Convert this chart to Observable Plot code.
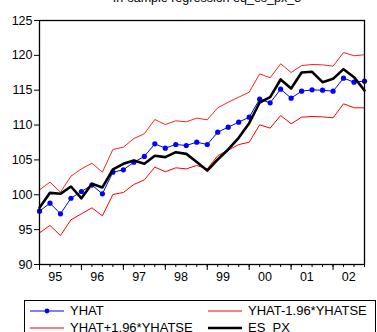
<!DOCTYPE html>
<html><head><meta charset="utf-8">
<script src="https://cdn.jsdelivr.net/npm/d3@7"></script>
<script src="https://cdn.jsdelivr.net/npm/@observablehq/plot@0.6"></script>
<style>
body{margin:0;background:#fff;font-family:"Liberation Sans",Arial,sans-serif;}
#wrap{position:relative;width:377px;height:332px;overflow:hidden;}
#title{position:absolute;left:0;width:414px;text-align:center;top:-9px;font-size:12.5px;color:#000;}
#chart{position:absolute;left:0;top:0;}
#legend{position:absolute;left:24px;top:300px;width:352px;height:60px;border:1px solid #000;box-sizing:border-box;font-size:13px;}
.item{position:absolute;display:flex;align-items:center;}
.item span{margin-left:6px;}
</style></head>
<body>
<div id="wrap">
<div id="title">In-sample regression eq_es_px_3</div>
<div id="chart"></div>
<div id="legend"></div>
</div>
<script>
const quarters = ["1995Q1","1995Q2","1995Q3","1995Q4","1996Q1","1996Q2","1996Q3","1996Q4",
"1997Q1","1997Q2","1997Q3","1997Q4","1998Q1","1998Q2","1998Q3","1998Q4",
"1999Q1","1999Q2","1999Q3","1999Q4","2000Q1","2000Q2","2000Q3","2000Q4",
"2001Q1","2001Q2","2001Q3","2001Q4","2002Q1","2002Q2","2002Q3","2002Q4"];
const yearLabels = ["95","96","97","98","99","00","01","02"];
const yhat = [97.65,98.8,97.27,99.5,100.47,101.4,100.14,103.24,
103.58,104.68,105.5,107.31,106.69,107.21,107.07,107.55,
107.21,108.98,109.7,110.42,111.13,113.72,113.19,115.15,
113.86,114.86,115.05,115.0,114.86,116.73,116.15,116.3];
const esPx = [98.13,100.28,100.14,101.19,99.5,101.57,101.05,103.63,
104.44,104.92,104.44,105.59,105.4,106.11,105.87,104.7,
103.48,105.06,106.5,108.17,110.27,113.24,114.0,116.54,
115.25,117.54,117.64,116.15,116.63,118.02,116.87,114.96];
const upper = [100.71,101.81,100.37,102.67,103.72,104.53,103.24,106.5,
106.83,108.07,108.75,110.8,110.08,110.61,110.47,110.99,
110.76,112.47,113.28,114.0,114.72,117.35,116.78,118.79,
117.54,118.54,118.69,118.64,118.45,120.41,119.94,120.08];
const lower = [94.54,95.6,94.16,96.41,97.27,98.13,96.98,100.04,
100.33,101.48,102.14,103.97,103.3,103.87,103.72,104.2,
103.72,105.6,106.4,107.2,107.54,110.04,109.56,111.37,
110.18,111.13,111.23,111.18,111.04,113.05,112.48,112.48];
const yTicks = [90,95,100,105,110,115,120,125];

const rows = quarters.map((q,i)=>({i, yhat:yhat[i], es:esPx[i], up:upper[i], lo:lower[i]}));
const qIdx = quarters.map((q,i)=>i);
const yearStarts = yearLabels.map((y,k)=>k*4);
const yearCenters = yearLabels.map((y,k)=>k*4+1.5);

const plot = Plot.plot({
  width:377, height:290,
  marginLeft:39, marginRight:13, marginTop:20, marginBottom:26,
  style:{fontFamily:"'Liberation Sans',Arial,sans-serif", fontSize:"12.5px", color:"#000", background:"transparent"},
  x:{domain:[0,31], axis:null},
  y:{domain:[90,125], axis:null},
  marks:[
    Plot.line(rows,{x:"i",y:"lo",stroke:"#ff0000",strokeWidth:1}),
    Plot.line(rows,{x:"i",y:"up",stroke:"#ff2020",strokeWidth:1}),
    Plot.line(rows,{x:"i",y:"yhat",stroke:"#0000ff",strokeWidth:1}),
    Plot.dot(rows,{x:"i",y:"yhat",fill:"#0000ff",r:2.6,stroke:"none"}),
    Plot.line(rows,{x:"i",y:"es",stroke:"#000",strokeWidth:2.6}),
    Plot.axisY({ticks:yTicks, tickSize:5, tickPadding:2, anchor:"left", label:null, tickFormat:d=>String(d), fontSize:12.5}),
    Plot.axisX({ticks:qIdx, tickSize:3, tickFormat:()=>"", anchor:"bottom", label:null}),
    Plot.axisX({ticks:yearStarts, tickSize:6, tickFormat:()=>"", anchor:"bottom", label:null}),
    Plot.axisX({ticks:yearCenters, tickSize:0, tickPadding:8, anchor:"bottom", label:null, tickFormat:(d)=>yearLabels[Math.round((d-1.5)/4)], fontSize:12.5}),
    Plot.frame({stroke:"#000", strokeWidth:1.3})
  ]
});
document.getElementById("chart").appendChild(plot);

const legendItems = [
  {label:"YHAT", color:"#0000ff", w:1, dot:true, x:5, y:2},
  {label:"YHAT-1.96*YHATSE", color:"#ff0000", w:1, dot:false, x:183, y:2},
  {label:"YHAT+1.96*YHATSE", color:"#ff5050", w:1.5, dot:false, x:5, y:19},
  {label:"ES_PX", color:"#000", w:2.6, dot:false, x:183, y:19}
];
const lg = document.getElementById("legend");
legendItems.forEach(it=>{
  const d = document.createElement("div");
  d.className="item";
  d.style.left=it.x+"px"; d.style.top=it.y+"px";
  d.innerHTML = `<svg width="34" height="14"><line x1="0" x2="34" y1="7" y2="7" stroke="${it.color}" stroke-width="${it.w}"/>${it.dot?`<circle cx="17" cy="7" r="2.4" fill="${it.color}"/>`:""}</svg><span>${it.label}</span>`;
  lg.appendChild(d);
});
</script>
</body></html>
